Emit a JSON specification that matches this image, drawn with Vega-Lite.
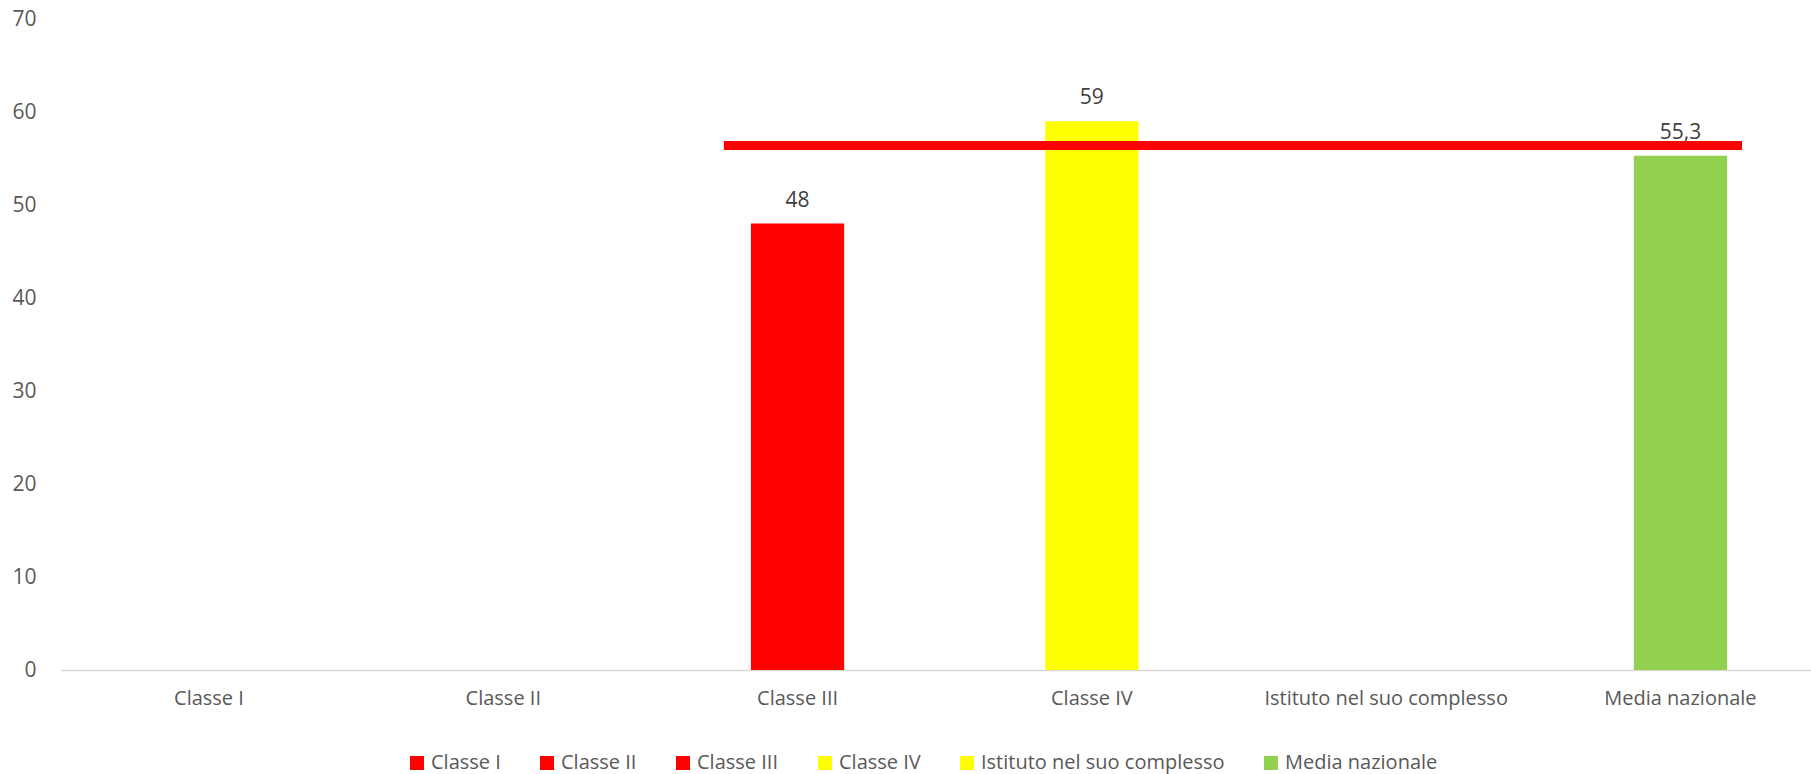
{
  "$schema": "https://vega.github.io/schema/vega-lite/v6.json",
  "autosize": {"type": "none"},
  "padding": {"left": 61, "top": 19, "right": 0, "bottom": 104},
  "width": 1750,
  "height": 651,
  "config": {
    "font": "Open Sans",
    "view": {"stroke": null},
    "locale": {"number": {"decimal": ",", "thousands": ".", "grouping": [3], "currency": ["€", ""]}}
  },
  "datasets": {
    "bars": [
      {"categoria": "Classe I", "valore": null},
      {"categoria": "Classe II", "valore": null},
      {"categoria": "Classe III", "valore": 48},
      {"categoria": "Classe IV", "valore": 59},
      {"categoria": "Istituto nel suo complesso", "valore": null},
      {"categoria": "Media nazionale", "valore": 55.3}
    ],
    "linea": [
      {"da": "Classe III", "a": "Media nazionale", "valore": 56.4}
    ]
  },
  "layer": [
    {
      "data": {"name": "bars"},
      "mark": {"type": "bar"},
      "encoding": {
        "x": {
          "field": "categoria", "type": "nominal", "sort": null,
          "scale": {"domain": ["Classe I", "Classe II", "Classe III", "Classe IV", "Istituto nel suo complesso", "Media nazionale"], "paddingInner": 0.683, "paddingOuter": 0.3147, "align": 0.547},
          "axis": {"title": null, "labelAngle": 0, "labelFontSize": 20, "labelColor": "#595959", "labelPadding": 18, "labelLimit": 500, "ticks": false, "domainColor": "#d9d9d9", "domainWidth": 1.5, "grid": false}
        },
        "y": {
          "field": "valore", "type": "quantitative",
          "scale": {"domain": [0, 70], "nice": false},
          "axis": {"title": null, "values": [0, 10, 20, 30, 40, 50, 60, 70], "labelFontSize": 21, "labelColor": "#595959", "labelPadding": 25, "ticks": false, "domain": false, "grid": false}
        },
        "color": {
          "field": "categoria", "type": "nominal", "sort": null,
          "scale": {"domain": ["Classe I", "Classe II", "Classe III", "Classe IV", "Istituto nel suo complesso", "Media nazionale"], "range": ["#ff0000", "#ff0000", "#ff0000", "#ffff00", "#ffff00", "#92d050"]},
          "legend": {"title": null, "orient": "none", "legendX": 346, "legendY": 734, "direction": "horizontal", "symbolType": "square", "symbolSize": 196, "symbolStrokeWidth": 0, "labelFontSize": 20, "labelColor": "#595959", "labelLimit": 500, "columnPadding": 36, "labelOffset": 4}
        }
      }
    },
    {
      "data": {"name": "bars"},
      "mark": {"type": "text", "baseline": "alphabetic", "dy": -17, "fontSize": 21, "color": "#404040"},
      "encoding": {
        "x": {"field": "categoria", "type": "nominal", "sort": null},
        "y": {"field": "valore", "type": "quantitative"},
        "text": {"field": "valore", "type": "quantitative", "format": ".3~g"}
      }
    },
    {
      "data": {"name": "linea"},
      "mark": {"type": "rule", "color": "#ff0000", "strokeWidth": 9},
      "encoding": {
        "x": {"field": "da", "type": "nominal", "bandPosition": -0.29},
        "x2": {"field": "a", "bandPosition": 1.16},
        "y": {"field": "valore", "type": "quantitative"}
      }
    }
  ]
}
